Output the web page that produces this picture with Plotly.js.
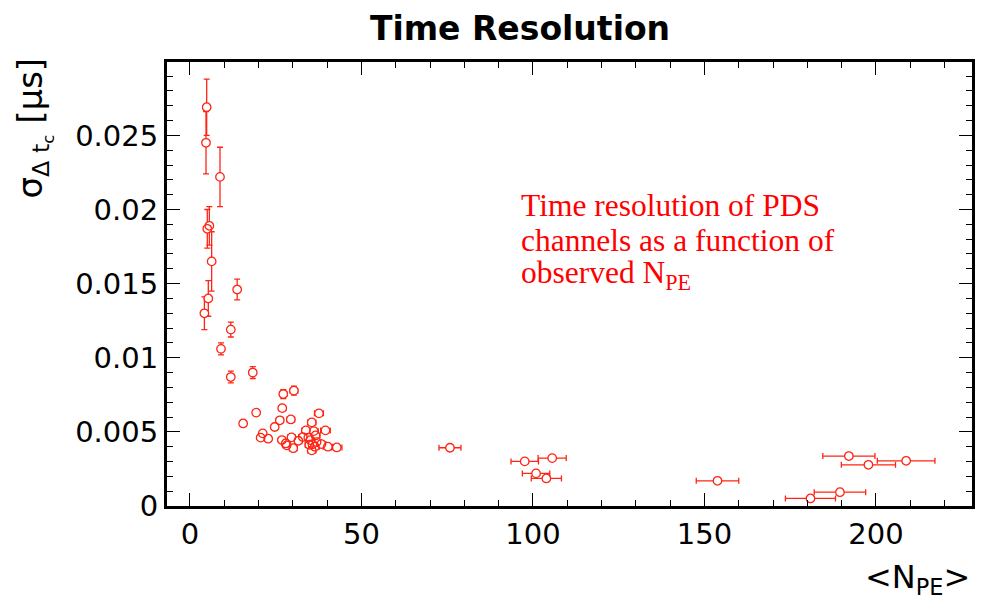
<!DOCTYPE html>
<html>
<head>
<meta charset="utf-8">
<script src="https://cdn.plot.ly/plotly-3.0.1.min.js"></script>
<style>html,body{margin:0;padding:0;background:#fff;}#chart{width:981px;height:600px;}</style>
</head>
<body>
<div id="chart"></div>
<script>
// <N_PE> values
var npe = [4.87, 4.67, 8.75, 5.64, 5.05, 6.32, 13.76, 5.34, 4.2, 11.9, 9.04, 11.9, 18.3,
  27.2, 30.3, 19.3, 26.9, 37.6, 15.5, 26.2, 29.4, 24.7, 35.5, 39.5, 21.2, 20.6, 22.8,
  26.8, 27.9, 28.2, 29.6, 30.1, 31.6, 32.9, 33.8, 34.5, 35.1, 36.1, 35.7, 36.4, 35.5,
  36.9, 38.3, 40.2, 42.8, 36.6, 34.8,
  75.8, 97.6, 105.6, 100.9, 103.9, 153.8, 192.1, 208.8, 197.8, 189.5, 180.9];
// sigma_{Delta t_c} [us]
var sigma = [0.0269, 0.0245, 0.0222, 0.0189, 0.0187, 0.0165, 0.0146, 0.0140, 0.0130, 0.0119, 0.0106, 0.0087, 0.0090,
  0.00755, 0.00778, 0.0063, 0.0066, 0.00625, 0.00557, 0.00578, 0.00584, 0.00533, 0.00564, 0.0051, 0.0049, 0.00461, 0.00454,
  0.00445, 0.00422, 0.00409, 0.00463, 0.0039, 0.0044, 0.00465, 0.0051, 0.00461, 0.00445, 0.00505, 0.00416, 0.0040, 0.00375,
  0.00431, 0.00418, 0.0040, 0.00395, 0.00476, 0.00413,
  0.00393, 0.00301, 0.00323, 0.0022, 0.00186, 0.0017, 0.00337, 0.00305, 0.00278, 0.00093, 0.00051];
// x errors
var npeErr = [0.3, 0.3, 0.4, 0.3, 0.3, 0.3, 0.6, 0.3, 0.3, 0.5, 0.4, 0.5, 0.7,
  1.0, 1.1, 0.8, 1.0, 1.3, 0.6, 1.0, 1.1, 0.9, 1.2, 1.4, 0.8, 0.8, 0.9,
  1.0, 1.0, 1.0, 1.1, 1.1, 1.1, 1.2, 1.2, 1.2, 1.2, 1.3, 1.3, 1.3, 1.2,
  1.3, 1.3, 1.4, 1.5, 1.3, 1.2,
  3.2, 4.0, 4.1, 4.0, 4.4, 6.2, 7.6, 8.4, 7.9, 7.5, 7.3];
// y errors
var sigmaErr = [0.0019, 0.0021, 0.0020, 0.0013, 0.0013, 0.0020, 0.0007, 0.0012, 0.0011, 0.0005, 0.0004, 0.0004, 0.0004,
  0.0003, 0.0003, 0.0002, 0.0002, 0.0002, 0.0002, 0.00015, 0.00015, 0.00015, 0.00015, 0.00015, 0.00015, 0.00015, 0.00015,
  0.00012, 0.00012, 0.00012, 0.00012, 0.00012, 0.00012, 0.00012, 0.00012, 0.00012, 0.00012, 0.00012, 0.00012, 0.00012, 0.00012,
  0.00012, 0.00012, 0.00012, 0.00012, 0.00012, 0.00012,
  0.0001, 0.0001, 0.0001, 0.0001, 0.0001, 0.0001, 0.0001, 0.0001, 0.0001, 0.0001, 0.0001];

var noteLines = ["Time resolution of PDS", "channels as a function of", "observed N<sub>PE</sub>"];

var RED = '#ff2414';
var W = 981, H = 600, L = 167, R = 9, T = 62, B = 94;
var pw = W - L - R, ph = H - T - B;
function px2paperX(p) { return (p - L) / pw; }
function px2paperY(p) { return (H - B - p) / ph; }

var XR = [-6.7, 228], YR = [0, 0.02995];

var traces = [
  {
    x: npe, y: sigma, type: 'scatter', mode: 'markers',
    error_x: {type: 'data', array: npeErr, visible: true, color: RED, thickness: 1.3, width: 3},
    error_y: {type: 'data', array: sigmaErr, visible: true, color: RED, thickness: 1.3, width: 3},
    marker: {symbol: 'circle', size: 8, color: 'white', line: {width: 0}},
    hoverinfo: 'skip', showlegend: false
  },
  {
    x: npe, y: sigma, type: 'scatter', mode: 'markers',
    marker: {symbol: 'circle-open', size: 8.5, color: RED, line: {width: 1.3, color: RED}},
    showlegend: false
  },
  { x: [], y: [], xaxis: 'x2', yaxis: 'y2', type: 'scatter', mode: 'markers', showlegend: false }
];

var annotations = [];
var lineY = [205, 240, 275];
for (var i = 0; i < noteLines.length; i++) {
  annotations.push({
    text: noteLines[i], xref: 'paper', yref: 'paper',
    x: px2paperX(519), y: px2paperY(lineY[i]), xanchor: 'left', yanchor: 'middle',
    showarrow: false, font: {family: 'Liberation Serif, Times New Roman, serif', size: 31.5, color: '#ff0000'}
  });
}
annotations.push({
  text: 'σ<sub>Δ t<sub>c</sub></sub> [μs]', textangle: -90,
  xref: 'paper', yref: 'paper', x: px2paperX(34), y: px2paperY(56),
  xanchor: 'center', yanchor: 'top', showarrow: false,
  font: {family: 'DejaVu Sans, sans-serif', size: 34, color: '#000'}
});
annotations.push({
  text: '&lt;N<sub>PE</sub>&gt;',
  xref: 'paper', yref: 'paper', x: px2paperX(972), y: px2paperY(579),
  xanchor: 'right', yanchor: 'middle', showarrow: false,
  font: {family: 'DejaVu Sans, sans-serif', size: 32, color: '#000'}
});

var axisCommon = {
  showline: true, linecolor: '#000', linewidth: 3, mirror: 'ticks',
  ticks: 'inside', ticklen: 13, tickwidth: 1, tickcolor: '#000',
  showgrid: false, zeroline: false,
  tickfont: {family: 'DejaVu Sans, sans-serif', size: 29, color: '#000'}
};

var layout = {
  width: W, height: H,
  margin: {l: L, r: R, t: T, b: B},
  paper_bgcolor: '#fff', plot_bgcolor: '#fff',
  title: {text: '<b>Time Resolution</b>', x: 520 / W, xanchor: 'center', xref: 'container',
          y: 1 - 28 / H, yanchor: 'middle', yref: 'container',
          font: {family: 'DejaVu Sans, sans-serif', size: 33, color: '#000'}},
  xaxis: Object.assign({}, axisCommon, {
    range: XR, dtick: 50, tick0: 0,
    minor: {dtick: 10, ticklen: 6, tickcolor: '#000', tickwidth: 1, ticks: 'inside'}
  }),
  yaxis: Object.assign({}, axisCommon, {
    range: YR, dtick: 0.005, tick0: 0,
    minor: {dtick: 0.001, ticklen: 6, tickcolor: '#000', tickwidth: 1, ticks: 'inside'}
  }),
  xaxis2: {
    overlaying: 'x', side: 'top', anchor: 'y2', range: XR, dtick: 50, tick0: 0,
    showline: false, showgrid: false, zeroline: false, showticklabels: false,
    ticks: 'inside', ticklen: 13, tickcolor: '#000', tickwidth: 1,
    minor: {dtick: 10, ticklen: 6, tickcolor: '#000', tickwidth: 1, ticks: 'inside'}
  },
  yaxis2: {
    overlaying: 'y', side: 'right', anchor: 'x2', range: YR, dtick: 0.005, tick0: 0,
    showline: false, showgrid: false, zeroline: false, showticklabels: false,
    ticks: 'inside', ticklen: 13, tickcolor: '#000', tickwidth: 1,
    minor: {dtick: 0.001, ticklen: 6, tickcolor: '#000', tickwidth: 1, ticks: 'inside'}
  },
  annotations: annotations
};

Plotly.newPlot('chart', traces, layout, {displayModeBar: false, staticPlot: true});
</script>
</body>
</html>
